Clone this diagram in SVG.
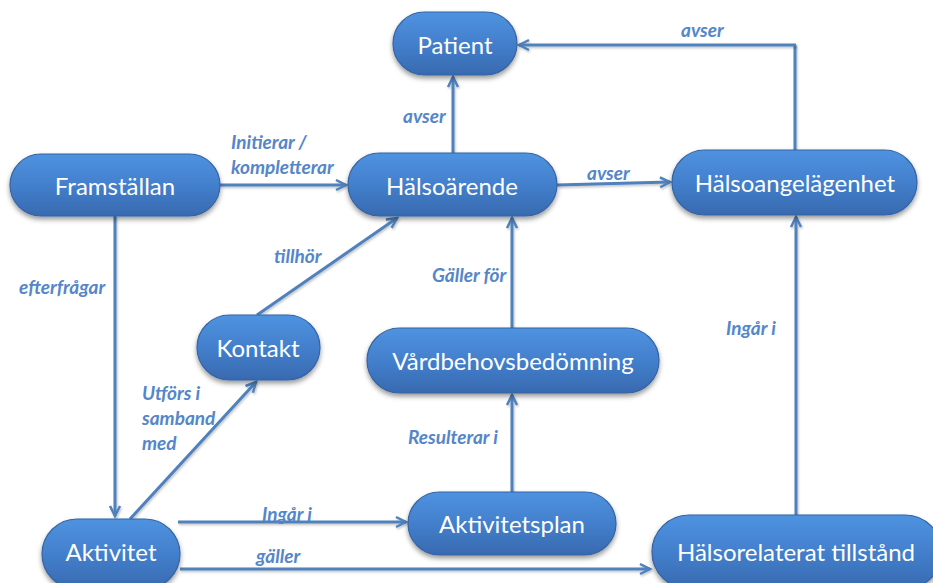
<svg xmlns="http://www.w3.org/2000/svg" width="933" height="583" viewBox="0 0 933 583">
  <style>
    .node rect { fill: url(#nodeFill); stroke: #3563a3; stroke-width: 1.2; filter: url(#nodeShadow); }
    .node text { font-family: Lato, "Open Sans", "Liberation Sans", sans-serif; font-size: 24px; fill: #ffffff; text-anchor: middle; dominant-baseline: central; }
    .edge { fill: none; stroke: #4f81bd; stroke-width: 3; marker-end: url(#arrow); filter: url(#lineShadow); }
    .plain { fill: none; stroke: #4f81bd; stroke-width: 3; filter: url(#lineShadow); }
    .label { font-family: Lato, "Open Sans", "Liberation Sans", sans-serif; font-size: 19px; font-weight: bold; font-style: italic; fill: #5486c9; }
  </style>
  <defs>
    <linearGradient id="nodeFill" x1="0" y1="0" x2="0" y2="1">
      <stop offset="0" stop-color="#4f93e0"/>
      <stop offset="0.5" stop-color="#437fcc"/>
      <stop offset="1" stop-color="#386ab0"/>
    </linearGradient>
    <filter id="nodeShadow" x="-20%" y="-30%" width="140%" height="170%">
      <feDropShadow dx="0" dy="3" stdDeviation="2.5" flood-color="#000" flood-opacity="0.4"/>
    </filter>
    <!-- user-space region so straight horizontal/vertical lines keep their shadow -->
    <filter id="lineShadow" filterUnits="userSpaceOnUse" x="0" y="0" width="933" height="583">
      <feDropShadow dx="1" dy="1.5" stdDeviation="1" flood-color="#000" flood-opacity="0.25"/>
    </filter>
    <marker id="arrow" markerUnits="userSpaceOnUse" markerWidth="14" markerHeight="14" refX="11" refY="6" orient="auto" viewBox="0 0 14 12">
      <path d="M1,1 L11,6 L1,11" fill="none" stroke="#4f81bd" stroke-width="2.5" stroke-linejoin="miter"/>
    </marker>
  </defs>

  <!-- connectors -->
  <g id="connectors">
    <path class="edge" d="M453,153 L453,77"/>
    <path class="plain" d="M795,150 L795,45"/>
    <path class="edge" d="M796,45 L519,45"/>
    <path class="edge" d="M220,185 L346,185"/>
    <path class="edge" d="M557,185 L670,182"/>
    <path class="edge" d="M115,216 L115,516"/>
    <path class="edge" d="M257,315 L397,218"/>
    <path class="edge" d="M130,519 L256,382"/>
    <path class="edge" d="M512,328 L512,218"/>
    <path class="edge" d="M512,492 L512,395"/>
    <path class="edge" d="M178,522 L406,522"/>
    <path class="edge" d="M180,569 L650,569"/>
    <path class="edge" d="M796,515 L796,217"/>

    <text class="label" x="403" y="123">avser</text>
    <text class="label" x="681" y="37">avser</text>
    <text class="label" x="231" y="149">Initierar /</text>
    <text class="label" x="231" y="174">kompletterar</text>
    <text class="label" x="587" y="180">avser</text>
    <text class="label" x="19" y="294">efterfrågar</text>
    <text class="label" x="274" y="263">tillhör</text>
    <text class="label" x="142" y="400">Utförs i</text>
    <text class="label" x="142" y="425">samband</text>
    <text class="label" x="142" y="450">med</text>
    <text class="label" x="432" y="282">Gäller för</text>
    <text class="label" x="408" y="444">Resulterar i</text>
    <text class="label" x="262" y="521">Ingår i</text>
    <text class="label" x="256" y="563">gäller</text>
    <text class="label" x="726" y="335">Ingår i</text>
  </g>

  <!-- nodes -->
  <g id="patient" class="node">
    <rect x="393" y="12" width="124" height="63" rx="31.5"/>
    <text x="455" y="44">Patient</text>
  </g>
  <g id="framstallan" class="node">
    <rect x="10" y="154" width="210" height="62" rx="31"/>
    <text x="115" y="185">Framställan</text>
  </g>
  <g id="halsoarende" class="node">
    <rect x="348" y="153" width="209" height="63" rx="31.5"/>
    <text x="452" y="185">Hälsoärende</text>
  </g>
  <g id="halsoangelagenhet" class="node">
    <rect x="672" y="150" width="245" height="65" rx="32.5"/>
    <text x="795" y="182">Hälsoangelägenhet</text>
  </g>
  <g id="kontakt" class="node">
    <rect x="197" y="315" width="123" height="65" rx="32.5"/>
    <text x="258" y="347">Kontakt</text>
  </g>
  <g id="vardbehovsbedomning" class="node">
    <rect x="367" y="328" width="292" height="65" rx="32.5"/>
    <text x="513" y="360">Vårdbehovsbedömning</text>
  </g>
  <g id="aktivitetsplan" class="node">
    <rect x="408" y="492" width="208" height="63" rx="31.5"/>
    <text x="512" y="523">Aktivitetsplan</text>
  </g>
  <g id="aktivitet" class="node">
    <rect x="42" y="519" width="138" height="70" rx="35"/>
    <text x="111" y="551">Aktivitet</text>
  </g>
  <g id="halsorelaterat-tillstand" class="node">
    <rect x="652" y="515" width="290" height="74" rx="37"/>
    <text x="796" y="551">Hälsorelaterat tillstånd</text>
  </g>
</svg>
